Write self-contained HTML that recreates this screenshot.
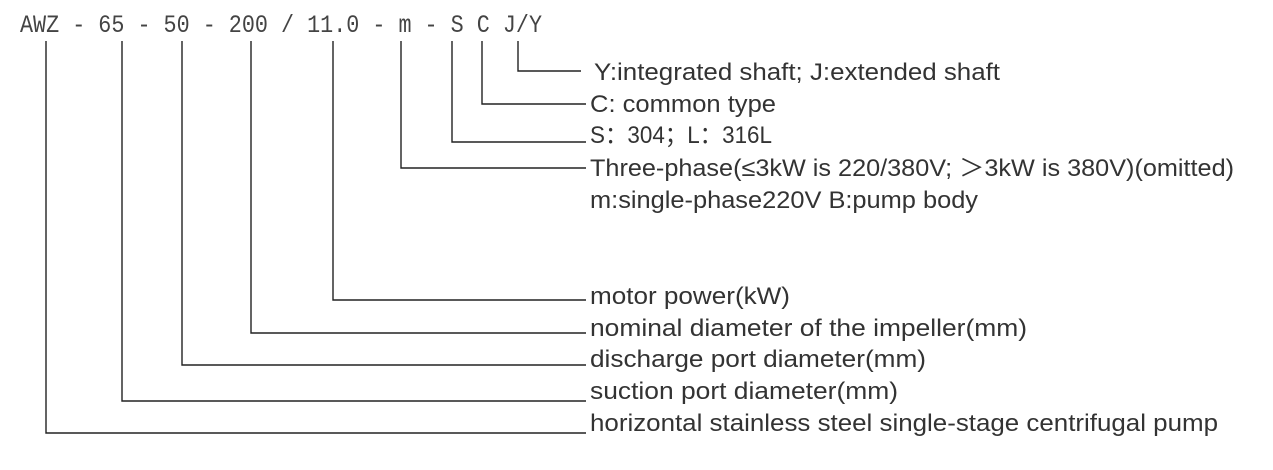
<!DOCTYPE html>
<html><head><meta charset="utf-8"><style>
html,body{margin:0;padding:0;background:#fff;}
svg{display:block}
.t{font-family:"Liberation Sans",sans-serif;font-size:24px;fill:#333}
.h{font-family:"Liberation Mono",monospace;font-size:25px;fill:#444}
</style></head><body>
<svg width="1273" height="470" viewBox="0 0 1273 470" xmlns="http://www.w3.org/2000/svg">
<text class="h" x="20" y="32" textLength="522" lengthAdjust="spacingAndGlyphs">AWZ - 65 - 50 - 200 / 11.0 - m - S C J/Y</text>
<g stroke="#222" stroke-width="1.4" fill="none">
<polyline points="518,41 518,71 581,71"/>
<polyline points="482,41 482,104 586,104"/>
<polyline points="452,41 452,142 586,142"/>
<polyline points="401,41 401,168 586,168"/>
<polyline points="333,41 333,300 586,300"/>
<polyline points="251,41 251,333 586,333"/>
<polyline points="182,41 182,365 586,365"/>
<polyline points="122,41 122,401 586,401"/>
<polyline points="46,41 46,433 586,433"/>
</g>
<text class="t" x="594" y="80" textLength="406" lengthAdjust="spacingAndGlyphs">Y:integrated shaft; J:extended shaft</text>
<text class="t" x="590" y="112" textLength="186" lengthAdjust="spacingAndGlyphs">C: common type</text>
<text class="t" x="590" y="143" textLength="182" lengthAdjust="spacingAndGlyphs">S：304；L：316L</text>
<text class="t" x="590" y="176" textLength="644" lengthAdjust="spacingAndGlyphs">Three-phase(≤3kW is 220/380V; ＞3kW is 380V)(omitted)</text>
<text class="t" x="590" y="208" textLength="388" lengthAdjust="spacingAndGlyphs">m:single-phase220V B:pump body</text>
<text class="t" x="590" y="304" textLength="200" lengthAdjust="spacingAndGlyphs">motor power(kW)</text>
<text class="t" x="590" y="336" textLength="437" lengthAdjust="spacingAndGlyphs">nominal diameter of the impeller(mm)</text>
<text class="t" x="590" y="367" textLength="336" lengthAdjust="spacingAndGlyphs">discharge port diameter(mm)</text>
<text class="t" x="590" y="399" textLength="308" lengthAdjust="spacingAndGlyphs">suction port diameter(mm)</text>
<text class="t" x="590" y="431" textLength="628" lengthAdjust="spacingAndGlyphs">horizontal stainless steel single-stage centrifugal pump</text>
</svg>
</body></html>
